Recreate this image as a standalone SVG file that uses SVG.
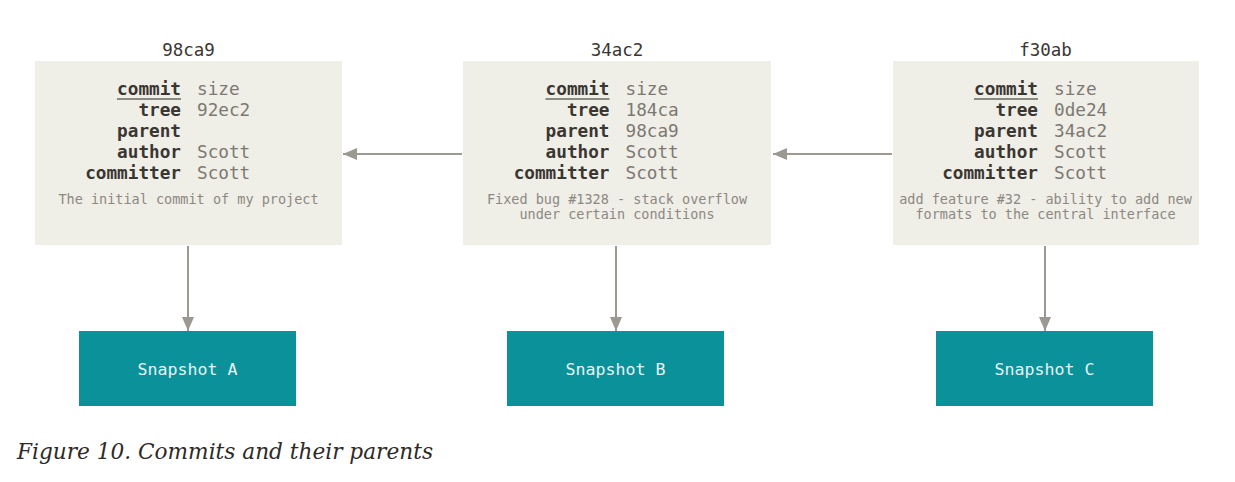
<svg xmlns="http://www.w3.org/2000/svg" width="1235" height="482" viewBox="0 0 1235 482">
<style>
.box{fill:#efeee7;}
.snap{fill:#0a9199;}
.title{font-family:"DejaVu Sans Mono","Liberation Mono",monospace;font-size:17.5px;fill:#3a3632;text-anchor:middle;}
.lbl{font-family:"DejaVu Sans Mono","Liberation Mono",monospace;font-size:17.7px;font-weight:bold;fill:#3a3632;text-anchor:end;}
.val{font-family:"DejaVu Sans Mono","Liberation Mono",monospace;font-size:17.7px;fill:#7d7872;}
.desc{font-family:"DejaVu Sans Mono","Liberation Mono",monospace;font-size:13.5px;fill:#8d8882;text-anchor:middle;}
.snaptxt{font-family:"DejaVu Sans Mono","Liberation Mono",monospace;font-size:16.6px;fill:#e6f3f3;text-anchor:middle;}
.ul{stroke:#6b6660;stroke-width:1.5;}
.conn{stroke:#9c9892;stroke-width:2;fill:none;}
.cap{font-family:"DejaVu Serif","Liberation Serif",serif;font-style:italic;font-size:22px;fill:#2d2a28;}
</style>
<defs>
<marker id="ah" viewBox="0 0 14 12" refX="14" refY="6" markerWidth="14" markerHeight="12" markerUnits="userSpaceOnUse" orient="auto">
<path d="M0,0 L14,6 L0,12 Z" fill="#9c9892"/>
</marker>
</defs>

<g id="commit-98ca9">
<text class="title" x="188.5" y="56">98ca9</text>
<rect class="box" x="35" y="61" width="307" height="184"/>
<text class="lbl" x="181" y="95">commit</text><line class="ul" x1="117" y1="99" x2="181" y2="99"/>
<text class="val" x="197" y="95">size</text>
<text class="lbl" x="181" y="116">tree</text><text class="val" x="197" y="116">92ec2</text>
<text class="lbl" x="181" y="137">parent</text>
<text class="lbl" x="181" y="158">author</text><text class="val" x="197" y="158">Scott</text>
<text class="lbl" x="181" y="179">committer</text><text class="val" x="197" y="179">Scott</text>
<text class="desc" x="188.5" y="204">The initial commit of my project</text>
</g>

<g id="commit-34ac2">
<text class="title" x="617" y="56">34ac2</text>
<rect class="box" x="463" y="61" width="308" height="184"/>
<text class="lbl" x="609.5" y="95">commit</text><line class="ul" x1="545.5" y1="99" x2="609.5" y2="99"/>
<text class="val" x="625.5" y="95">size</text>
<text class="lbl" x="609.5" y="116">tree</text><text class="val" x="625.5" y="116">184ca</text>
<text class="lbl" x="609.5" y="137">parent</text><text class="val" x="625.5" y="137">98ca9</text>
<text class="lbl" x="609.5" y="158">author</text><text class="val" x="625.5" y="158">Scott</text>
<text class="lbl" x="609.5" y="179">committer</text><text class="val" x="625.5" y="179">Scott</text>
<text class="desc" x="617" y="204">Fixed bug #1328 - stack overflow</text>
<text class="desc" x="617" y="219">under certain conditions</text>
</g>

<g id="commit-f30ab">
<text class="title" x="1045.5" y="56">f30ab</text>
<rect class="box" x="893" y="61" width="306" height="184"/>
<text class="lbl" x="1038" y="95">commit</text><line class="ul" x1="974" y1="99" x2="1038" y2="99"/>
<text class="val" x="1054" y="95">size</text>
<text class="lbl" x="1038" y="116">tree</text><text class="val" x="1054" y="116">0de24</text>
<text class="lbl" x="1038" y="137">parent</text><text class="val" x="1054" y="137">34ac2</text>
<text class="lbl" x="1038" y="158">author</text><text class="val" x="1054" y="158">Scott</text>
<text class="lbl" x="1038" y="179">committer</text><text class="val" x="1054" y="179">Scott</text>
<text class="desc" x="1045.5" y="204">add feature #32 - ability to add new</text>
<text class="desc" x="1045.5" y="219">formats to the central interface</text>
</g>

<g id="snapshot-a">
<rect class="snap" x="79" y="331" width="217" height="75"/>
<text class="snaptxt" x="187.5" y="375">Snapshot A</text>
</g>
<g id="snapshot-b">
<rect class="snap" x="507" y="331" width="217" height="75"/>
<text class="snaptxt" x="615.5" y="375">Snapshot B</text>
</g>
<g id="snapshot-c">
<rect class="snap" x="936" y="331" width="217" height="75"/>
<text class="snaptxt" x="1044.5" y="375">Snapshot C</text>
</g>

<g id="connectors">
<line class="conn" x1="462" y1="154" x2="343" y2="154" marker-end="url(#ah)"/>
<line class="conn" x1="892" y1="154" x2="773" y2="154" marker-end="url(#ah)"/>
<line class="conn" x1="188" y1="246" x2="188" y2="331" marker-end="url(#ah)"/>
<line class="conn" x1="616" y1="246" x2="616" y2="331" marker-end="url(#ah)"/>
<line class="conn" x1="1045" y1="246" x2="1045" y2="331" marker-end="url(#ah)"/>
</g>

<text class="cap" x="17" y="459" textLength="416" lengthAdjust="spacingAndGlyphs">Figure 10. Commits and their parents</text>
</svg>
